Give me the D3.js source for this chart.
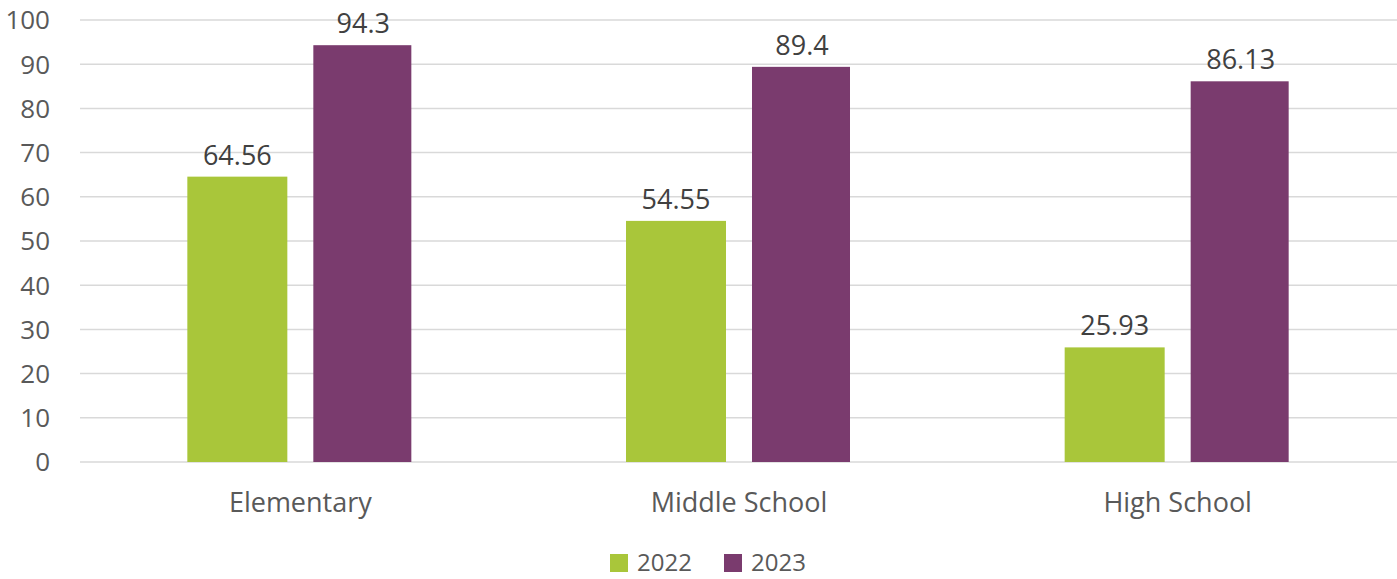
<!DOCTYPE html>
<html>
<head>
<meta charset="utf-8">
<script src="https://cdn.jsdelivr.net/npm/d3@7"></script>
<style>
  body { margin: 0; background: #fff; }
  text { font-family: "Open Sans", "Noto Sans", sans-serif; }
</style>
</head>
<body>
<div id="chart"></div>
<script>
const categories = ["Elementary", "Middle School", "High School"];
const seriesNames = ["2022", "2023"];
const values2022 = [64.56, 54.55, 25.93];
const values2023 = [94.3, 89.4, 86.13];
const yTicks = [0, 10, 20, 30, 40, 50, 60, 70, 80, 90, 100];
const colors = ["#a9c63a", "#7a3b6e"];

const svgWidth = 1397;
const svgHeight = 579;
const margin = { top: 20, right: 0, bottom: 117, left: 81 };
const width = svgWidth - margin.left - margin.right;
const height = svgHeight - margin.top - margin.bottom;

const svg = d3.select("#chart")
  .append("svg")
  .attr("width", svgWidth)
  .attr("height", svgHeight);

const chartGroup = svg.append("g")
  .attr("transform", `translate(${margin.left}, ${margin.top})`);

const x0 = d3.scaleBand().domain(categories).range([0, width]);
const yScale = d3.scaleLinear().domain([0, 100]).range([height, 0]);

// gridlines
chartGroup.selectAll("line.grid")
  .data(yTicks).enter()
  .append("line")
  .attr("x1", -1)
  .attr("x2", width)
  .attr("y1", d => yScale(d))
  .attr("y2", d => yScale(d))
  .attr("stroke", "#d9d9d9")
  .attr("stroke-width", 1.5);

// y tick labels
chartGroup.selectAll("text.ytick")
  .data(yTicks).enter()
  .append("text")
  .attr("x", -31)
  .attr("y", d => yScale(d))
  .attr("dy", "0.36em")
  .attr("text-anchor", "end")
  .attr("fill", "#595959")
  .style("font-size", "26px")
  .text(d => d);

const barWidth = 100;
const innerGap = 26;

const rows = categories.map((c, i) => ({ cat: c, vals: [values2022[i], values2023[i]] }));

const groups = chartGroup.selectAll("g.cat")
  .data(rows).enter()
  .append("g")
  .attr("transform", d => `translate(${x0(d.cat) + x0.bandwidth() / 2}, 0)`);

groups.each(function(d) {
  const g = d3.select(this);
  d.vals.forEach((v, j) => {
    const bx = j === 0 ? -innerGap / 2 - barWidth : innerGap / 2;
    g.append("rect")
      .attr("x", bx)
      .attr("width", barWidth - (j === 1 ? 2 : 0))
      .attr("y", yScale(v))
      .attr("height", height - yScale(v))
      .attr("fill", colors[j]);
    g.append("text")
      .attr("x", bx + barWidth / 2)
      .attr("y", yScale(v) - 12)
      .attr("text-anchor", "middle")
      .attr("fill", "#404040")
      .style("font-size", "27px")
      .text(v);
  });
  g.append("text")
    .attr("x", 0)
    .attr("y", height + 50)
    .attr("text-anchor", "middle")
    .attr("fill", "#595959")
    .style("font-size", "27px")
    .text(d.cat);
});

// legend
const legend = svg.append("g");
const legendX = [610, 724];
seriesNames.forEach((s, i) => {
  legend.append("rect")
    .attr("x", legendX[i])
    .attr("y", 554)
    .attr("width", 18)
    .attr("height", 18)
    .attr("fill", colors[i]);
  legend.append("text")
    .attr("x", legendX[i] + 27)
    .attr("y", 571)
    .attr("fill", "#595959")
    .style("font-size", "24px")
    .text(s);
});
</script>
</body>
</html>
